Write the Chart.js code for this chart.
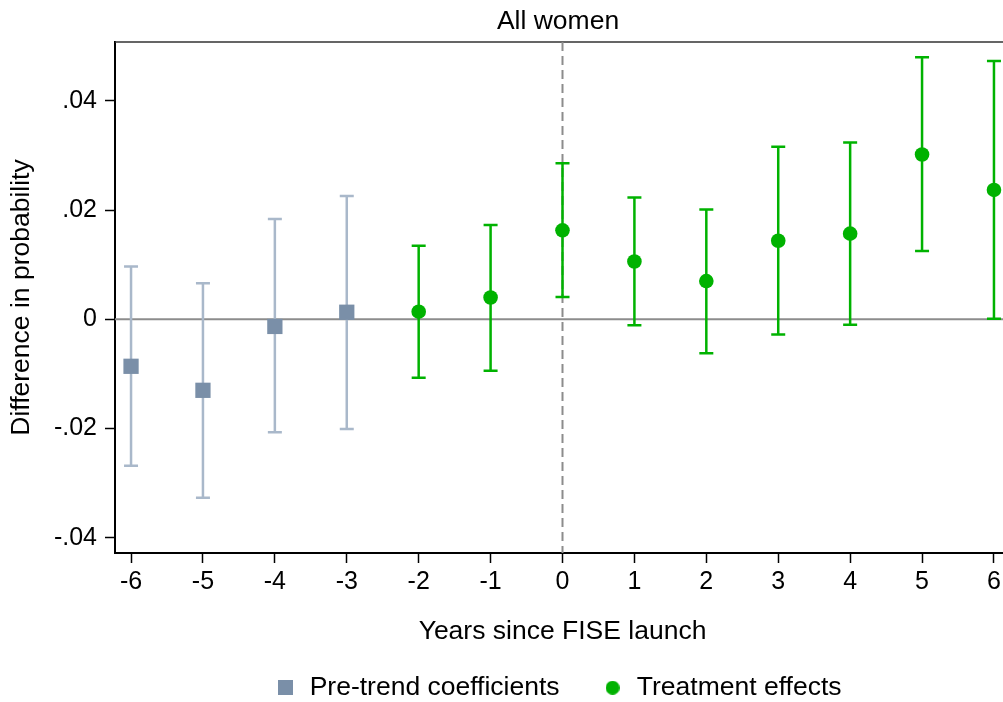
<!DOCTYPE html>
<html>
<head>
<meta charset="utf-8">
<script src="https://cdn.jsdelivr.net/npm/chart.js@4"></script>
<style>
html, body { margin: 0; padding: 0; background: #fff; overflow: hidden; }
#wrap { width: 1003px; height: 702px; overflow: hidden; position: relative; }
#c { position: absolute; left: 0; top: 0; }
</style>
</head>
<body>
<div id="wrap"><canvas id="c" width="1116" height="711"></canvas></div>
<script>
// pre-trend coefficients (years -6..-3)
const preX = [-6, -5, -4, -3];
const preCoef = [-0.0086, -0.0130, -0.0013, 0.0013];
const preLow = [-0.0268, -0.0327, -0.0207, -0.0201];
const preHigh = [0.0097, 0.0066, 0.0184, 0.0226];

// treatment effects (years -2..6)
const trtX = [-2, -1, 0, 1, 2, 3, 4, 5, 6];
const trtCoef = [0.0014, 0.0040, 0.0163, 0.0106, 0.0070, 0.0144, 0.0157, 0.0302, 0.0237];
const trtLow = [-0.0107, -0.0094, 0.0041, -0.0011, -0.0062, -0.0028, -0.0010, 0.0125, 0.0001];
const trtHigh = [0.0135, 0.0173, 0.0286, 0.0223, 0.0201, 0.0316, 0.0324, 0.0480, 0.0473];

const xTickValues = [-6, -5, -4, -3, -2, -1, 0, 1, 2, 3, 4, 5, 6];
const xTickLabels = ['-6', '-5', '-4', '-3', '-2', '-1', '0', '1', '2', '3', '4', '5', '6'];
const yTickValues = [-0.04, -0.02, 0, 0.02, 0.04];
const yTickLabels = ['-.04', '-.02', '0', '.02', '.04'];

const seriesNames = ['Pre-trend coefficients', 'Treatment effects'];

const PRE_MARK = '#7a8fa8';
const PRE_BAR = '#a9b8ca';
const GREEN = '#00b200';

Chart.defaults.font.family = '"Liberation Sans", Arial, sans-serif';
Chart.defaults.color = '#000';

function makeIcon(shape, color, size) {
    const c = document.createElement('canvas');
    c.width = size; c.height = size;
    const g = c.getContext('2d');
    g.fillStyle = color;
    if (shape === 'rect') {
        g.fillRect(0, 0, size, size);
    } else {
        g.beginPath();
        g.arc(size / 2, size / 2, size / 2, 0, Math.PI * 2);
        g.fill();
    }
    return c;
}
const legendIcons = [makeIcon('rect', PRE_MARK, 15), makeIcon('circle', GREEN, 14)];

// error bars, zero line, launch line and top frame
const extras = {
    id: 'extras',
    beforeDatasetsDraw(chart) {
        const { ctx, chartArea: a, scales: { x, y } } = chart;
        ctx.save();

        ctx.strokeStyle = '#333';
        ctx.lineWidth = 1.5;
        ctx.beginPath();
        ctx.moveTo(a.left, a.top);
        ctx.lineTo(a.right, a.top);
        ctx.lineTo(a.right, a.bottom);
        ctx.stroke();

        const y0 = y.getPixelForValue(0);
        ctx.strokeStyle = '#8c8c8c';
        ctx.lineWidth = 2;
        ctx.beginPath();
        ctx.moveTo(a.left, y0);
        ctx.lineTo(a.right, y0);
        ctx.stroke();

        const x0 = x.getPixelForValue(0);
        ctx.setLineDash([9, 5]);
        ctx.beginPath();
        ctx.moveTo(x0, a.top);
        ctx.lineTo(x0, a.bottom);
        ctx.stroke();
        ctx.setLineDash([]);

        function bars(xs, lo, hi, color) {
            ctx.strokeStyle = color;
            ctx.lineWidth = 2.5;
            for (let i = 0; i < xs.length; i++) {
                const px = x.getPixelForValue(xs[i]);
                const pl = y.getPixelForValue(lo[i]);
                const ph = y.getPixelForValue(hi[i]);
                ctx.beginPath();
                ctx.moveTo(px, pl); ctx.lineTo(px, ph);
                ctx.moveTo(px - 7, pl); ctx.lineTo(px + 7, pl);
                ctx.moveTo(px - 7, ph); ctx.lineTo(px + 7, ph);
                ctx.stroke();
            }
        }
        bars(preX, preLow, preHigh, PRE_BAR);
        bars(trtX, trtLow, trtHigh, GREEN);
        ctx.restore();
    }
};

const ctx = document.getElementById('c').getContext('2d');
new Chart(ctx, {
    type: 'scatter',
    data: {
        datasets: [{
            label: seriesNames[0],
            data: preX.map((v, i) => ({ x: v, y: preCoef[i] })),
            pointStyle: 'rect',
            pointRadius: 10.8,
            pointBorderWidth: 0,
            backgroundColor: PRE_MARK,
            borderColor: PRE_MARK
        }, {
            label: seriesNames[1],
            data: trtX.map((v, i) => ({ x: v, y: trtCoef[i] })),
            pointStyle: 'circle',
            pointRadius: 7.3,
            pointBorderWidth: 0,
            backgroundColor: GREEN,
            borderColor: GREEN
        }]
    },
    options: {
        responsive: false,
        animation: false,
        events: [],
        layout: { padding: 0 },
        scales: {
            x: {
                type: 'linear',
                min: -6.223,
                max: 6.223,
                afterBuildTicks: s => { s.ticks = xTickValues.map(v => ({ value: v })); },
                afterFit: s => { s.height = 79.5; },
                ticks: {
                    font: { size: 25 },
                    padding: 4,
                    callback: (v, i) => xTickLabels[i]
                },
                grid: { drawOnChartArea: false, tickLength: 10, tickColor: '#000', tickWidth: 1.5 },
                border: { color: '#000', width: 2 },
                title: {
                    display: true,
                    text: 'Years since FISE launch',
                    font: { size: 26.5 },
                    padding: { top: 0, bottom: -15.4 }
                }
            },
            y: {
                type: 'linear',
                position: 'left',
                min: -0.0428,
                max: 0.0508,
                afterBuildTicks: s => { s.ticks = yTickValues.map(v => ({ value: v })); },
                afterFit: s => { s.width = 115; },
                ticks: {
                    font: { size: 25 },
                    padding: 8,
                    callback: (v, i) => yTickLabels[i]
                },
                grid: { drawOnChartArea: false, tickLength: 10, tickColor: '#000', tickWidth: 1.5 },
                border: { color: '#000', width: 2 },
                title: {
                    display: true,
                    text: 'Difference in probability',
                    font: { size: 26.5 },
                    padding: { top: 6.1, bottom: 0 }
                }
            },
            yRight: {
                type: 'linear',
                position: 'right',
                display: true,
                afterFit: s => { s.width = 106; },
                ticks: { display: false },
                grid: { display: false },
                border: { display: false }
            }
        },
        plugins: {
            title: {
                display: true,
                text: 'All women',
                font: { size: 26.5, weight: 'normal' },
                color: '#000',
                padding: { top: 6, bottom: 4.2 }
            },
            legend: {
                position: 'bottom',
                labels: {
                    usePointStyle: true,
                    pointStyleWidth: 22,
                    padding: 42,
                    font: { size: 26.5 },
                    color: '#000',
                    generateLabels: chart => chart.data.datasets.map((ds, i) => ({
                        text: ds.label,
                        pointStyle: legendIcons[i],
                        fillStyle: ds.backgroundColor,
                        strokeStyle: 'transparent',
                        lineWidth: 0,
                        hidden: false,
                        datasetIndex: i,
                        fontColor: '#000'
                    }))
                }
            },
            tooltip: { enabled: false }
        }
    },
    plugins: [extras]
});
</script>
</body>
</html>
